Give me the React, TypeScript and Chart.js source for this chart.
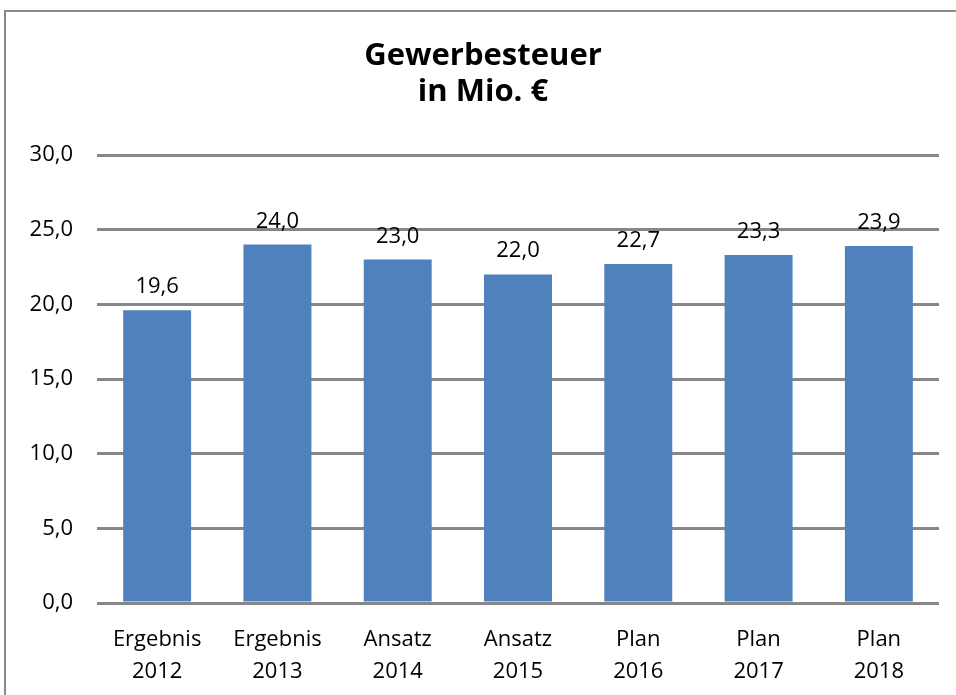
import React, { useEffect, useRef } from "react";
import { Chart, registerables } from "chart.js";

Chart.register(...registerables);

const categories: string[][] = [
  ["Ergebnis", "2012"],
  ["Ergebnis", "2013"],
  ["Ansatz", "2014"],
  ["Ansatz", "2015"],
  ["Plan", "2016"],
  ["Plan", "2017"],
  ["Plan", "2018"],
];
const values: number[] = [19.6, 24.0, 23.0, 22.0, 22.7, 23.3, 23.9];
const titleLines: string[] = ["Gewerbesteuer", "in Mio. €"];
const yMin = 0;
const yMax = 30;
const yStep = 5;

const fmt = (v: number) => v.toFixed(1).replace(".", ",");

const valueLabels = {
  id: "valueLabels",
  afterDatasetsDraw(chart: any) {
    const ctx = chart.ctx;
    const meta = chart.getDatasetMeta(0);
    ctx.save();
    ctx.font = "22px 'Open Sans'";
    ctx.fillStyle = "#000";
    ctx.textAlign = "center";
    ctx.textBaseline = "alphabetic";
    meta.data.forEach((bar: any, i: number) => {
      ctx.fillText(fmt(values[i]), bar.x, bar.y - 17);
    });
    ctx.restore();
  },
};

const titleDraw = {
  id: "titleDraw",
  afterDraw(chart: any) {
    const ctx = chart.ctx;
    ctx.save();
    ctx.font = "bold 31px 'Open Sans'";
    ctx.fillStyle = "#000";
    ctx.textAlign = "center";
    ctx.textBaseline = "alphabetic";
    const cx = chart.width / 2 + 5;
    titleLines.forEach((line, i) => {
      ctx.fillText(line, cx, 65 + i * 36);
    });
    ctx.restore();
  },
};

export default function App() {
  const ref = useRef<HTMLCanvasElement | null>(null);
  useEffect(() => {
    if (!ref.current) return;
    const chart = new Chart(ref.current, {
      type: "bar",
      data: {
        labels: categories,
        datasets: [
          {
            data: values,
            backgroundColor: "#4F81BD",
            borderWidth: 0,
            categoryPercentage: 1,
            barPercentage: 0.565,
          },
        ],
      },
      options: {
        animation: false,
        responsive: false,
        maintainAspectRatio: false,
        layout: { padding: { left: 0, right: 17, top: 155, bottom: 0 } },
        plugins: {
          legend: { display: false },
          tooltip: { enabled: false },
          title: { display: false },
        },
        scales: {
          x: {
            grid: { display: false, drawTicks: false },
            border: { display: false },
            ticks: {
              color: "#000",
              font: { family: "'Open Sans'", size: 22, lineHeight: 32 / 22 },
              padding: 21,
              maxRotation: 0,
              autoSkip: false,
            },
            afterFit: (scale: any) => {
              scale.height = 92;
            },
          },
          y: {
            min: yMin,
            max: yMax,
            grid: { color: "#878787", lineWidth: 3, drawTicks: false },
            border: { display: false },
            ticks: {
              stepSize: yStep,
              color: "#000",
              font: { family: "'Open Sans'", size: 22 },
              padding: 24,
              callback: (v: any) => fmt(Number(v)),
            },
            afterFit: (scale: any) => {
              scale.width = 97;
            },
          },
        },
      },
      plugins: [valueLabels, titleDraw],
    });
    return () => chart.destroy();
  }, []);

  return (
    <div
      style={{
        position: "fixed",
        left: 0,
        top: 0,
        width: 956,
        height: 695,
        overflow: "hidden",
        background: "#fff",
      }}
    >
      <div
        style={{
          position: "absolute",
          left: 4,
          top: 10,
          width: 1000,
          height: 1000,
          border: "2px solid #8a8a8a",
          boxSizing: "border-box",
        }}
      />
      <canvas
        ref={ref}
        width={956}
        height={695}
        style={{ position: "absolute", left: 0, top: 0, width: 956, height: 695 }}
      />
    </div>
  );
}
